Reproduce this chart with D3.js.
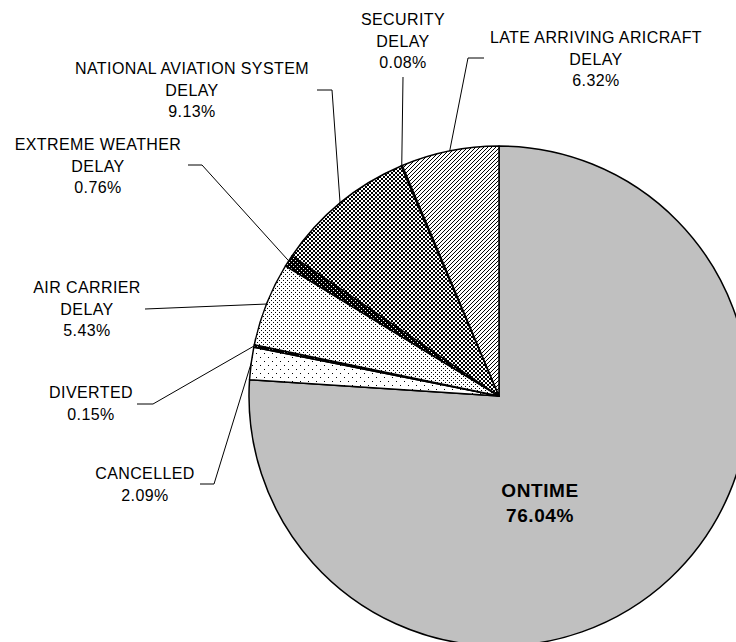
<!DOCTYPE html>
<html lang="en">
<head>
	<meta charset="UTF-8">
	<title>Flight status pie</title>
	<script src="https://d3js.org/d3.v7.min.js"></script>
	<style>
		body { margin: 0; background: #fff; }
		text { font-family: "Liberation Sans", Arial, sans-serif; }
	</style>
</head>
<body>
	<script type="text/javascript">
		// data, clockwise from 12 o'clock
		const categories = ["ONTIME", "CANCELLED", "DIVERTED", "AIR CARRIER DELAY",
			"EXTREME WEATHER DELAY", "NATIONAL AVIATION SYSTEM DELAY", "SECURITY DELAY",
			"LATE ARRIVING ARICRAFT DELAY"];
		const shares = [76.04, 2.09, 0.15, 5.43, 0.76, 9.13, 0.08, 6.32];

		// label lines as they are broken in the picture
		const labelLines = [
			["ONTIME"],
			["CANCELLED"],
			["DIVERTED"],
			["AIR CARRIER", "DELAY"],
			["EXTREME WEATHER", "DELAY"],
			["NATIONAL AVIATION SYSTEM", "DELAY"],
			["SECURITY", "DELAY"],
			["LATE ARRIVING ARICRAFT", "DELAY"]
		];

		const width = 736;
		const height = 642;
		const cx = 499, cy = 396;
		const radius = 250;

		// where each label sits (x centre, first baseline) and the elbow of its leader
		const layout = [
			{ x: 540, y: 497, leader: null },
			{ x: 145, y: 479, leader: [[200, 484], [214, 484]] },
			{ x: 91, y: 398, leader: [[137, 404], [153, 404]] },
			{ x: 87, y: 293, leader: [[145, 309]] },
			{ x: 98, y: 150, leader: [[188, 165], [202, 165]] },
			{ x: 192, y: 74, leader: [[317, 90], [332, 90]] },
			{ x: 403, y: 25, leader: [[403, 77]] },
			{ x: 596, y: 43, leader: [[484, 58], [468, 58]] }
		];

		const svg = d3.select("body")
			.append("svg")
			.attr("width", width)
			.attr("height", height);

		const defs = svg.append("defs");

		// tile of w x h with a background and s x s squares drawn as one path
		function pattern(id, w, h, bg, fg, dots, s = 1) {
			const p = defs.append("pattern")
				.attr("id", id)
				.attr("patternUnits", "userSpaceOnUse")
				.attr("width", w)
				.attr("height", h);
			p.append("rect").attr("width", w).attr("height", h).attr("fill", bg);
			p.append("path")
				.attr("d", dots.map((q) => `M${q[0]},${q[1]}h${s}v${s}h${-s}z`).join(""))
				.attr("fill", fg);
			return p;
		}

		pattern("sparseDots", 8, 8, "#fff", "#000", [[1, 1], [5, 5]]);
		pattern("denseDots", 4, 4, "#fff", "#000", [[0, 0], [2, 2]]);
		pattern("checker", 4, 4, "#fff", "#000", [[0, 0], [2, 2]], 2);
		pattern("darkChecker", 4, 4, "#000", "#fff", [[0, 0], [2, 2]]);
		pattern("darkDots", 3, 3, "#000", "#fff", [[1, 1]]);

		// diagonal hatch
		const hatch = defs.append("pattern")
			.attr("id", "hatch")
			.attr("patternUnits", "userSpaceOnUse")
			.attr("width", 4)
			.attr("height", 4);
		hatch.append("rect").attr("width", 4).attr("height", 4).attr("fill", "#fff");
		hatch.append("path")
			.attr("d", "M-1,1 l2,-2 M0,4 l4,-4 M3,5 l2,-2")
			.attr("stroke", "#000")
			.attr("stroke-width", 1);

		const fills = ["#c0c0c0", "url(#sparseDots)", "url(#darkDots)", "url(#denseDots)",
			"url(#darkChecker)", "url(#checker)", "url(#darkDots)", "url(#hatch)"];

		const data = categories.map((c, i) => ({ name: c, value: shares[i], i: i }));

		const pie = d3.pie()
			.sort(null)
			.value((d) => d.value);

		const arc = d3.arc()
			.innerRadius(0)
			.outerRadius(radius);

		const edge = d3.arc()
			.innerRadius(radius)
			.outerRadius(radius);

		const arcs = pie(data);

		const g = svg.append("g")
			.attr("transform", `translate(${cx},${cy})`);

		g.selectAll("path.slice")
			.data(arcs)
			.enter()
			.append("path")
			.attr("class", "slice")
			.attr("d", arc)
			.attr("fill", (d) => fills[d.data.i])
			.attr("stroke", "#000")
			.attr("stroke-width", 1.5)
			.attr("stroke-linejoin", "round");

		// leader lines
		svg.selectAll("polyline.leader")
			.data(arcs.filter((d) => layout[d.data.i].leader))
			.enter()
			.append("polyline")
			.attr("class", "leader")
			.attr("points", (d) => {
				const c = edge.centroid(d);
				const pts = layout[d.data.i].leader.concat([[cx + c[0], cy + c[1]]]);
				return pts.map((q) => q.join(",")).join(" ");
			})
			.attr("fill", "none")
			.attr("stroke", "#000")
			.attr("stroke-width", 1);

		// labels
		const labels = svg.selectAll("text.label")
			.data(arcs)
			.enter()
			.append("text")
			.attr("class", "label")
			.attr("text-anchor", "middle")
			.attr("font-size", (d) => d.data.i === 0 ? "19px" : "16px")
			.attr("font-weight", (d) => d.data.i === 0 ? "bold" : "normal")
			.attr("letter-spacing", (d) => d.data.i === 0 ? "0.6px" : "0.4px")
			.attr("fill", "#000");

		labels.each(function(d) {
			const lay = layout[d.data.i];
			const lines = labelLines[d.data.i].concat([d.data.value.toFixed(2) + "%"]);
			const step = d.data.i === 0 ? 25 : 21.6;
			d3.select(this).selectAll("tspan")
				.data(lines)
				.enter()
				.append("tspan")
				.attr("x", lay.x)
				.attr("y", (t, k) => lay.y + k * step)
				.text((t) => t);
		});
	</script>
</body>
</html>
